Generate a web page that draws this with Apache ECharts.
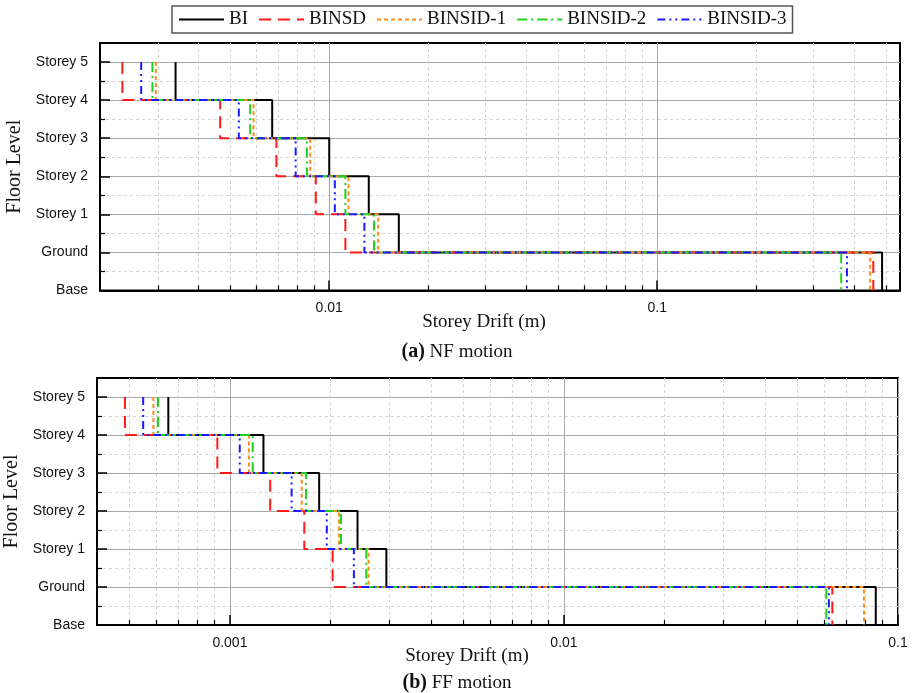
<!DOCTYPE html>
<html>
<head>
<meta charset="utf-8">
<script src="https://cdn.jsdelivr.net/npm/echarts@6/dist/echarts.min.js"></script>
<style>
  html, body { margin: 0; padding: 0; background: #fff; }
  #main { width: 913px; height: 693px; }
</style>
</head>
<body>
<div id="main"></div>
<script>
// floor levels, bottom to top (y value = index)
let levels = ["Base", "Ground", "Storey 1", "Storey 2", "Storey 3", "Storey 4", "Storey 5"]

let seriesNames = ["BI", "BINSD", "BINSID-1", "BINSID-2", "BINSID-3"]

// storey drift (m), order: Ground, Storey 1 .. Storey 5
// (a) NF motion
let nfBI      = [0.485, 0.0163, 0.0132, 0.0100, 0.0067, 0.0034]
let nfBINSD   = [0.456, 0.0112, 0.0091, 0.0069, 0.00465, 0.00234]
let nfBINSID1 = [0.446, 0.0141, 0.01145, 0.00875, 0.00588, 0.00296]
let nfBINSID2 = [0.364, 0.0137, 0.0112, 0.00855, 0.00574, 0.00289]
let nfBINSID3 = [0.379, 0.0128, 0.0104, 0.0079, 0.0053, 0.00267]

// (b) FF motion
let ffBI      = [0.0858, 0.00294, 0.00241, 0.00185, 0.00126, 0.000654]
let ffBINSD   = [0.0636, 0.00203, 0.00167, 0.00132, 0.000917, 0.000485]
let ffBINSID1 = [0.0791, 0.0026, 0.00212, 0.00164, 0.00114, 0.00059]
let ffBINSID2 = [0.0610, 0.00256, 0.00215, 0.00169, 0.00117, 0.000609]
let ffBINSID3 = [0.0621, 0.00235, 0.00195, 0.00153, 0.00107, 0.00055]

// tick values on the log axes
let nfMajor = [0.01, 0.1]
let nfMinor = [0.003, 0.004, 0.005, 0.006, 0.007, 0.008, 0.009,
               0.02, 0.03, 0.04, 0.05, 0.06, 0.07, 0.08, 0.09,
               0.2, 0.3, 0.4, 0.5]
let ffMajor = [0.001, 0.01, 0.1]
let ffMinor = [0.0005, 0.0006, 0.0007, 0.0008, 0.0009,
               0.002, 0.003, 0.004, 0.005, 0.006, 0.007, 0.008, 0.009,
               0.02, 0.03, 0.04, 0.05, 0.06, 0.07, 0.08, 0.09]

let levelTicks = [0, 1, 2, 3, 4, 5, 6]
let levelMinor = [0.5, 1.5, 2.5, 3.5, 4.5, 5.5]

let colors = ["#000000", "#ff1a1a", "#ff8c1a", "#1ed31e", "#1a1aff"]
let dashes = ["solid", [12, 7], [4, 3], [10, 4, 2, 4], [8, 4, 2, 4, 2, 4]]

let serif = "Liberation Serif"
let sans = "Liberation Sans"

// step outline: vertical at each storey's drift, horizontal at floor lines
function stepPoints(vals) {
    let pts = []
    for (let k = vals.length; k >= 1; k--) {
        pts.push([vals[k - 1], k])
        pts.push([vals[k - 1], k - 1])
    }
    return pts
}

function fmt(v) {
    return String(Number(v.toPrecision(6)))
}

function makeX(grid, min, max, major, minor) {
    return [
        {
            type: "log", gridIndex: grid, min: min, max: max, position: "bottom",
            axisLine: { show: true, onZero: false, lineStyle: { color: "#000", width: 2 } },
            axisTick: { show: true, inside: true, length: 10, customValues: major, lineStyle: { color: "#000", width: 1.5 } },
            axisLabel: { show: true, customValues: major, margin: 11, formatter: fmt,
                color: "#111", fontFamily: sans, fontSize: 14 },
            splitLine: { show: true, lineStyle: { color: "#a8a8a8", width: 1 } }
        },
        {
            type: "log", gridIndex: grid, min: min, max: max, position: "bottom",
            axisLine: { show: false },
            axisTick: { show: true, inside: true, length: 5, customValues: minor, lineStyle: { color: "#000", width: 1.2 } },
            axisLabel: { show: false },
            splitLine: { show: true, lineStyle: { color: "#d4d4d4", width: 1, type: [3, 3] } }
        }
    ]
}

function makeY(grid, nameGap) {
    return [
        {
            type: "value", gridIndex: grid, min: 0, max: 6.5, position: "left",
            name: "Floor Level", nameLocation: "middle", nameRotate: 90, nameGap: nameGap,
            nameTextStyle: { fontFamily: serif, fontSize: 20, color: "#111" },
            axisLine: { show: true, onZero: false, lineStyle: { color: "#000", width: 2 } },
            axisTick: { show: true, inside: true, length: 10, customValues: levelTicks, lineStyle: { color: "#000", width: 1.5 } },
            axisLabel: { show: true, customValues: levelTicks, margin: 12,
                formatter: v => levels[Math.round(v)] || "",
                color: "#111", fontFamily: sans, fontSize: 14 },
            splitLine: { show: true, lineStyle: { color: "#a8a8a8", width: 1 } }
        },
        {
            type: "value", gridIndex: grid, min: 0, max: 6.5, position: "left",
            axisLine: { show: false },
            axisTick: { show: true, inside: true, length: 5, customValues: levelMinor, lineStyle: { color: "#000", width: 1.2 } },
            axisLabel: { show: false },
            splitLine: { show: true, lineStyle: { color: "#d4d4d4", width: 1, type: [3, 3] } }
        }
    ]
}

function makeSeries(panel, dataList) {
    return dataList.map((vals, i) => ({
        name: seriesNames[i],
        type: "line",
        xAxisIndex: panel * 2,
        yAxisIndex: panel * 2,
        data: stepPoints(vals),
        showSymbol: false,
        symbol: "none",
        silent: true,
        animation: false,
        z: 2 + i,
        lineStyle: { color: colors[i], width: 2, type: dashes[i] },
        itemStyle: { color: colors[i] }
    }))
}

var myChart = echarts.init(document.getElementById("main"))

var option = {
    animation: false,
    legend: {
        left: 172, top: 6,
        padding: [4, 6, 4, 6],
        itemGap: 10,
        itemWidth: 45, itemHeight: 20,
        borderColor: "#555", borderWidth: 1.5,
        data: seriesNames,
        itemStyle: { opacity: 0 },
        textStyle: { fontFamily: serif, fontSize: 19, color: "#111" }
    },
    title: [
        { text: "Storey Drift (m)", left: 484, top: 313, textAlign: "center", padding: 0,
          textStyle: { fontFamily: serif, fontSize: 19, fontWeight: "normal", color: "#111" } },
        { text: "{b|(a)} NF motion", left: 457, top: 342, textAlign: "center", padding: 0,
          textStyle: { fontFamily: serif, fontSize: 19, fontWeight: "normal", color: "#111",
              rich: { b: { fontFamily: serif, fontSize: 20, fontWeight: "bold", color: "#111" } } } },
        { text: "Storey Drift (m)", left: 467, top: 647, textAlign: "center", padding: 0,
          textStyle: { fontFamily: serif, fontSize: 19, fontWeight: "normal", color: "#111" } },
        { text: "{b|(b)} FF motion", left: 457, top: 673, textAlign: "center", padding: 0,
          textStyle: { fontFamily: serif, fontSize: 19, fontWeight: "normal", color: "#111",
              rich: { b: { fontFamily: serif, fontSize: 20, fontWeight: "bold", color: "#111" } } } }
    ],
    grid: [
        { left: 100, right: 13, top: 43, height: 247.5, show: true, borderColor: "#000", borderWidth: 2,
          containLabel: false, outerBoundsMode: "none" },
        { left: 97, right: 15, top: 378, height: 247, show: true, borderColor: "#000", borderWidth: 2,
          containLabel: false, outerBoundsMode: "none" }
    ],
    xAxis: [
        ...makeX(0, 0.002, 0.55, nfMajor, nfMinor),
        ...makeX(1, 0.0004, 0.1, ffMajor, ffMinor)
    ],
    yAxis: [
        ...makeY(0, 70),
        ...makeY(1, 67)
    ],
    series: [
        ...makeSeries(0, [nfBI, nfBINSD, nfBINSID1, nfBINSID2, nfBINSID3]),
        ...makeSeries(1, [ffBI, ffBINSD, ffBINSID1, ffBINSID2, ffBINSID3])
    ]
}

myChart.setOption(option)
</script>
</body>
</html>
